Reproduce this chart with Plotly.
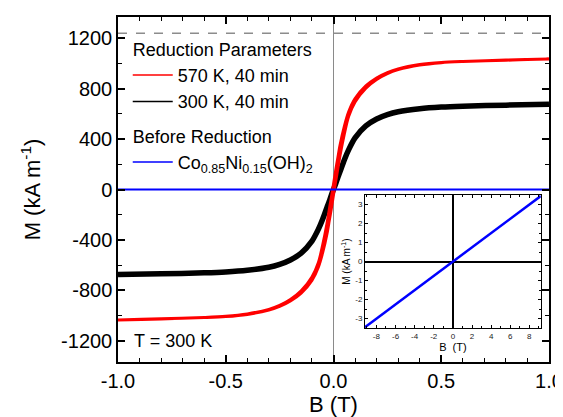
import plotly.graph_objects as go

# ---------------- data ----------------
B_GRID = [-1.0, -0.8, -0.6, -0.5, -0.4, -0.3, -0.25, -0.2, -0.15, -0.1, -0.07, -0.05,
          -0.03, -0.02, -0.01, 0.0, 0.01, 0.02, 0.03, 0.05, 0.07, 0.1, 0.15, 0.2,
          0.25, 0.3, 0.4, 0.5, 0.6, 0.8, 1.0]

# 570 K, 40 min  (increasing-field and decreasing-field branches)
M_RED_UP = [-1036, -1028, -1017, -1009, -992, -958, -929, -886, -823, -722, -615, -500,
            -350, -250, -150, -42, 63, 165, 268, 440, 580, 695, 805, 874,
            921, 952, 988, 1007, 1016, 1027, 1036]
M_RED_DOWN = [-1036, -1027, -1016, -1007, -988, -952, -921, -874, -805, -695, -580, -440,
              -268, -165, -63, 42, 150, 250, 350, 500, 615, 722, 823, 886,
              929, 958, 992, 1009, 1017, 1028, 1036]

# 300 K, 40 min
M_BLACK = [-676, -670, -662, -655, -642, -618, -595, -560, -505, -410, -315, -235,
           -140, -95, -45, 0, 45, 95, 140, 235, 315, 410, 505, 560,
           595, 618, 642, 655, 662, 670, 678]

# Before reduction, Co0.85Ni0.15(OH)2 (main panel, +-1 T)
B_BLUE = [-1.0, 0.0, 1.0]
M_BLUE = [-0.4, 0.0, 0.4]

# Inset, +-9 T
B_INSET = [-9.2, -4.5, 0.0, 4.5, 9.2]
M_INSET = [-3.45, -1.69, 0.0, 1.69, 3.45]

# dashed reference level
B_REF = [-1.0, 1.0]
M_REF = [1240, 1240]

X_TICKS = [-1.0, -0.5, 0.0, 0.5, 1.0]
X_TICKTEXT = ["-1.0", "-0.5", "0.0", "0.5", "1.0"]
Y_TICKS = [-1200, -800, -400, 0, 400, 800, 1200]
Y_TICKTEXT = ["-1200", "-800", "-400", "0", "400", "800", "1200"]
XI_TICKS = [-8, -6, -4, -2, 0, 2, 4, 6, 8]
XI_TICKTEXT = ["-8", "-6", "-4", "-2", "0", "2", "4", "6", "8"]
YI_TICKS = [-3, -2, -1, 0, 1, 2, 3]
YI_TICKTEXT = ["-3", "-2", "-1", "0", "1", "2", "3"]

FONT = "Arial, Liberation Sans, sans-serif"
RED = "#ff0000"
BLUE = "#0000ff"

fig = go.Figure()

# reference dashed line
fig.add_trace(go.Scatter(x=B_REF, y=M_REF, mode="lines", showlegend=False,
                         line=dict(color="#8c8c8c", width=1.5, dash="dash")))

# black curve
fig.add_trace(go.Scatter(x=B_GRID, y=M_BLACK, mode="lines", showlegend=False,
                         line=dict(color="black", width=5.5, shape="spline", smoothing=0.8)))

# red loop: down branch then up branch
fig.add_trace(go.Scatter(x=B_GRID[::-1] + B_GRID, y=M_RED_DOWN[::-1] + M_RED_UP,
                         mode="lines", showlegend=False,
                         line=dict(color=RED, width=3, shape="spline", smoothing=0.8)))

# blue
fig.add_trace(go.Scatter(x=B_BLUE, y=M_BLUE, mode="lines", showlegend=False,
                         line=dict(color=BLUE, width=2)))

# legend entries
fig.add_trace(go.Scatter(x=[None], y=[None], mode="lines", name="570 K, 40 min",
                         legend="legend", legendgroup="red",
                         legendgrouptitle_text="Reduction Parameters",
                         line=dict(color=RED, width=1.5)))
fig.add_trace(go.Scatter(x=[None], y=[None], mode="lines", name="300 K, 40 min",
                         legend="legend", legendgroup="red",
                         line=dict(color="black", width=1.5)))
fig.add_trace(go.Scatter(x=[None], y=[None], mode="lines",
                         name="Co<sub>0.85</sub>Ni<sub>0.15</sub>(OH)<sub>2</sub>",
                         legend="legend2", legendgroup="blue",
                         legendgrouptitle_text="Before Reduction",
                         line=dict(color=BLUE, width=1.5)))

# inset
fig.add_trace(go.Scatter(x=B_INSET, y=M_INSET, mode="lines", showlegend=False,
                         xaxis="x2", yaxis="y2",
                         line=dict(color=BLUE, width=2.5)))

axis_common = dict(showline=True, linecolor="black", linewidth=1.5, mirror="ticks",
                   ticks="inside", tickcolor="black", tickwidth=1.5, ticklen=7,
                   showgrid=False, tickfont=dict(size=20, family=FONT, color="black"))

legend_common = dict(xanchor="left", yanchor="top",
                     bgcolor="rgba(0,0,0,0)", borderwidth=0,
                     font=dict(size=18, family=FONT, color="black"),
                     grouptitlefont=dict(size=18, family=FONT, color="black"),
                     traceorder="grouped", itemwidth=40)

fig.update_layout(
    width=563, height=417,
    margin=dict(l=110, r=22, t=7, b=63),
    paper_bgcolor="white", plot_bgcolor="white",
    font=dict(family=FONT, color="black"),
    xaxis=dict(range=[-1, 1], tickmode="array", tickvals=X_TICKS, ticktext=X_TICKTEXT,
               minor=dict(ticks="inside", ticklen=4, tick0=0, dtick=0.1,
                          tickcolor="black", tickwidth=1.2),
               zeroline=True, zerolinecolor="#8a8a8a", zerolinewidth=1.3,
               title=dict(text="B (T)", font=dict(size=22, family=FONT), standoff=3),
               **axis_common),
    yaxis=dict(range=[-1370, 1370], tickmode="array", tickvals=Y_TICKS, ticktext=Y_TICKTEXT,
               minor=dict(ticks="inside", ticklen=4, tick0=0, dtick=200,
                          tickcolor="black", tickwidth=1.2),
               zeroline=False,
               title=dict(text="M (kA m<sup>-1</sup>)", font=dict(size=22, family=FONT), standoff=14),
               **axis_common),
    xaxis2=dict(domain=[0.573, 0.981], anchor="y2", range=[-9.2, 9.2],
                tickmode="array", tickvals=XI_TICKS, ticktext=XI_TICKTEXT,
                showline=True, linecolor="black", linewidth=1, mirror="ticks",
                ticks="inside", ticklen=3, tickwidth=1, tickcolor="black",
                minor=dict(ticks="inside", ticklen=2, tick0=0, dtick=1, tickcolor="black"),
                showgrid=False, zeroline=True, zerolinecolor="black", zerolinewidth=1.5,
                tickfont=dict(size=8, family=FONT, color="#222"),
                title=dict(text="B  (T)", font=dict(size=11, family=FONT), standoff=2)),
    yaxis2=dict(domain=[0.098, 0.484], anchor="x2", range=[-3.5, 3.5],
                tickmode="array", tickvals=YI_TICKS, ticktext=YI_TICKTEXT,
                showline=True, linecolor="black", linewidth=1, mirror="ticks",
                ticks="inside", ticklen=3, tickwidth=1, tickcolor="black",
                minor=dict(ticks="inside", ticklen=2, tick0=0, dtick=0.5, tickcolor="black"),
                showgrid=False, zeroline=True, zerolinecolor="black", zerolinewidth=1.5,
                tickfont=dict(size=8, family=FONT, color="#222"),
                title=dict(text="M (kA m<sup>-1</sup>)", font=dict(size=10, family=FONT), standoff=2)),
    legend=dict(x=0.0226, y=0.961, **legend_common),
    legend2=dict(x=0.0226, y=0.709, **legend_common),
    annotations=[dict(text="T = 300 K", xref="paper", yref="paper", x=0.0316, y=0.0605,
                      xanchor="left", yanchor="middle", showarrow=False,
                      font=dict(size=18, family=FONT, color="black"))],
)

fig.write_html("out.html")
